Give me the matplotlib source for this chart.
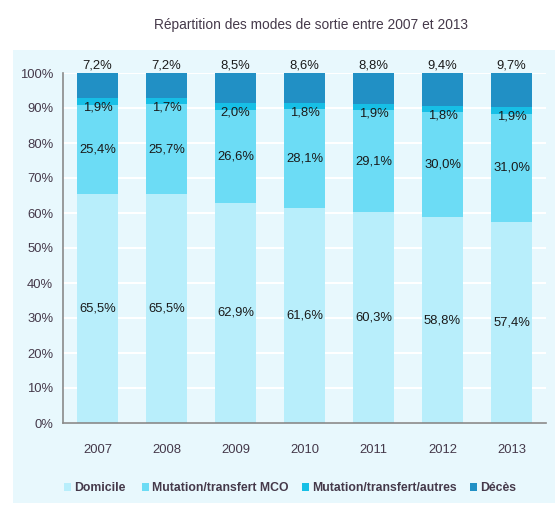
import matplotlib
matplotlib.use("Agg")
import matplotlib.pyplot as plt
from matplotlib.patches import Rectangle
from matplotlib import font_manager as fm
import numpy as np

names_avail = {f.name for f in fm.fontManager.ttflist}
narrow = 'Liberation Sans Narrow' if 'Liberation Sans Narrow' in names_avail else 'Liberation Sans'
plt.rcParams['font.family'] = [narrow, 'DejaVu Sans']
scale = 1.0 if narrow == 'Liberation Sans Narrow' else 0.85

years = ['2007', '2008', '2009', '2010', '2011', '2012', '2013']
series_names = ['Domicile', 'Mutation/transfert MCO', 'Mutation/transfert/autres', 'Décès']
domicile = [65.5, 65.5, 62.9, 61.6, 60.3, 58.8, 57.4]
mco = [25.4, 25.7, 26.6, 28.1, 29.1, 30.0, 31.0]
autres = [1.9, 1.7, 2.0, 1.8, 1.9, 1.8, 1.9]
deces = [7.2, 7.2, 8.5, 8.6, 8.8, 9.4, 9.7]
yticks = [0, 10, 20, 30, 40, 50, 60, 70, 80, 90, 100]

colors = ['#B8EEFB', '#6CDCF5', '#17BFE6', '#2190C5']
bg = '#E8F8FD'
txt = '#45394A'
fs = 11 * scale

fig = plt.figure(figsize=(5.55, 5.08), dpi=100)
fig.patch.set_facecolor('white')
fig.patches.append(Rectangle((13/555, 1-503/508), (555-13)/555, (503-50)/508,
                             transform=fig.transFigure, facecolor=bg, edgecolor='none', zorder=-5))

ax = fig.add_axes([63/555, 1-423/508, (546-63)/555, (423-73)/508])
ax.set_zorder(2)
ax.set_facecolor(bg)

x = np.arange(len(years))
data = [domicile, mco, autres, deces]
total = np.array(domicile) + np.array(mco) + np.array(autres) + np.array(deces)
norm = [np.array(s) / total * 100 for s in data]
bottom = np.zeros(len(years))
handles = []
for s, vals, c, name in zip(data, norm, colors, series_names):
    h = ax.bar(x, vals, 0.58, bottom=bottom, color=c, label=name, zorder=3)
    handles.append(h)
    for i in range(len(years)):
        lab = f"{s[i]:.1f}%".replace('.', ',')
        if name == 'Décès':
            ax.annotate(lab, (x[i], 100), xytext=(0, 1), textcoords='offset points',
                        ha='center', va='bottom', fontsize=fs, color='#1a1a1a', zorder=5,
                        annotation_clip=False)
        elif name == 'Mutation/transfert/autres':
            ax.text(x[i], bottom[i] + vals[i] / 2 - 1.8, lab, ha='center', va='center',
                    fontsize=fs, color='#1a1a1a', zorder=5)
        else:
            ax.text(x[i], bottom[i] + vals[i] / 2, lab, ha='center', va='center',
                    fontsize=fs, color='#1a1a1a', zorder=5)
    bottom = bottom + vals

ax.set_xlim(-0.5, 6.5)
ax.set_ylim(0, 100)
ax.set_yticks(yticks)
ax.set_yticklabels([f"{t}%" for t in yticks])
ax.set_xticks(x)
ax.set_xticklabels(years)
ax.tick_params(axis='both', length=0, labelsize=fs, colors=txt)
ax.tick_params(axis='y', pad=7)
ax.tick_params(axis='x', pad=15)
ax.grid(axis='y', color='white', linewidth=1.5, zorder=1)
ax.set_axisbelow(True)
for sp in ['top', 'right']:
    ax.spines[sp].set_visible(False)
for sp in ['left', 'bottom']:
    ax.spines[sp].set_color('#8a8a8a')
    ax.spines[sp].set_linewidth(1.2)
    ax.spines[sp].set_zorder(4)

fig.text(311/555, 1-25/508, 'Répartition des modes de sortie entre 2007 et 2013',
         ha='center', va='center', fontsize=11.7 * scale, color=txt)

leg_fs = 10.4 * scale
leg_x = [64, 142, 302, 470]
for h, name, lx in zip(handles, series_names, leg_x):
    leg = fig.legend(handles=[h], labels=[name], loc='center left',
                     bbox_to_anchor=(lx/555, 1-488/508), frameon=False,
                     borderpad=0, borderaxespad=0,
                     handlelength=0.6, handleheight=0.6, handletextpad=0.25,
                     prop={'weight': 'bold', 'size': leg_fs})
    for t in leg.get_texts():
        t.set_color(txt)

fig.savefig('out.png', dpi=100, facecolor=fig.get_facecolor())
